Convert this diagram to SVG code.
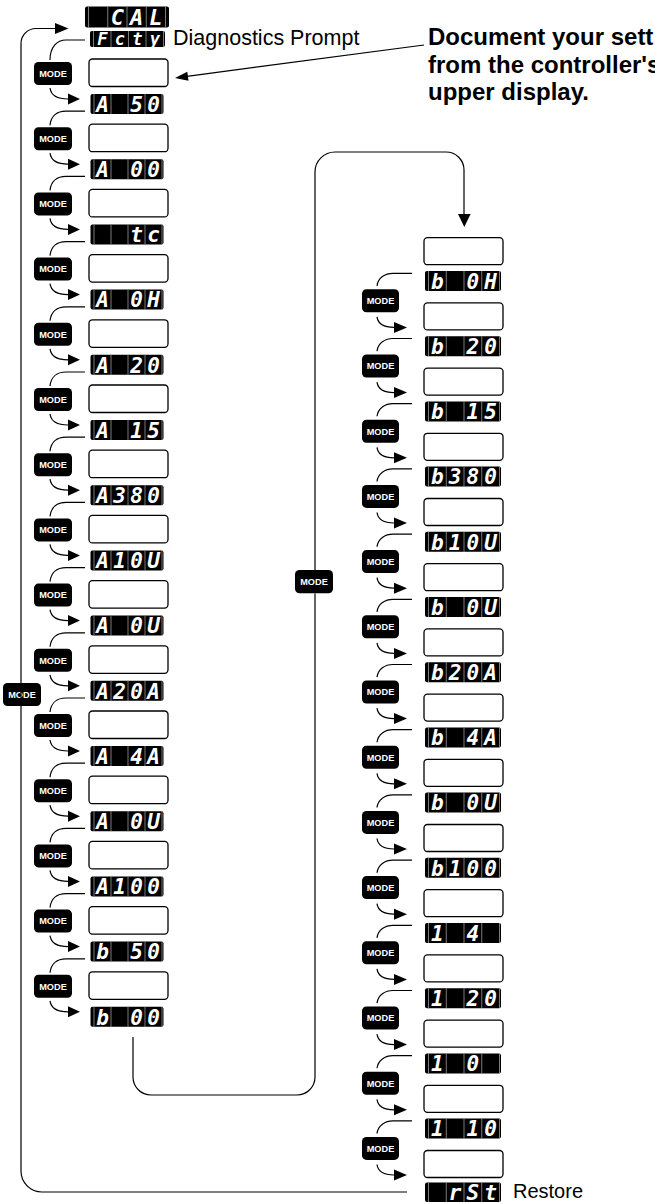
<svg xmlns="http://www.w3.org/2000/svg" width="655" height="1203" viewBox="0 0 655 1203">
<style>
.box{fill:#fff;stroke:#000;stroke-width:1.3}
.sep{fill:none;stroke:#9a9a9a;stroke-width:0.8}
.seg{font-family:"DejaVu Sans Mono",monospace;font-style:italic;font-weight:bold;font-size:21px;fill:#fff;text-anchor:middle}
.btn{fill:#000}
.bt{font-family:"Liberation Sans",Arial,sans-serif;font-weight:bold;font-size:9.2px;fill:#fff;text-anchor:middle}
.ln{fill:none;stroke:#000;stroke-width:1.2}
.ah{fill:#000}
.lbl{font-family:"Liberation Sans",Arial,sans-serif;font-size:21.5px;fill:#000}
.note{font-family:"Liberation Sans",Arial,sans-serif;font-size:24px;font-weight:bold;fill:#000}
</style>
<defs>
<g id="dL"><rect width="73" height="20" rx="2"/><path class="sep" d="M3.5,0V20M20.5,0V20M37.5,0V20M54.5,0V20M71.5,0V20"/></g>
<g id="dR"><rect width="76" height="20" rx="2"/><path class="sep" d="M3.5,0V20M21.25,0V20M39,0V20M56.75,0V20M74.5,0V20"/></g>
</defs>
<rect width="655" height="1203" fill="#fff"/>

<g id="labels">
<text class="lbl" x="173" y="45">Diagnostics Prompt</text>
<text class="note" x="428" y="45">Document your sett</text>
<text class="note" x="428" y="72.5">from the controller's</text>
<text class="note" x="428" y="100">upper display.</text>
<text class="lbl" x="513" y="1198" style="font-size:20px">Restore</text>
</g>

<g id="left-column">
<g id="d-cal"><rect x="85" y="6.5" width="84" height="21" rx="2"/><path class="sep" d="M88.5,6.5V27.5M107.75,6.5V27.5M127,6.5V27.5M146.25,6.5V27.5M165.5,6.5V27.5"/><text class="seg" style="font-size:22px" x="117.4 136.6 155.9" y="24.5">CAL</text></g>
<g id="d-fcty"><rect x="90" y="31" width="75" height="16" rx="2"/><path class="sep" d="M93.5,31V47M111,31V47M128.5,31V47M146,31V47M163.5,31V47"/><text class="seg" style="font-size:17px" x="102.25 119.75 137.25 154.75" y="44.8">Fcty</text></g>

<g id="box-L0"><rect class="box" x="89" y="59" width="79" height="27.5" rx="3.5"/></g>
<g id="mode-L0"><rect class="btn" x="34" y="62" width="38" height="23" rx="4.5"/><text class="bt" x="53" y="76.8">MODE</text></g>
<g id="d-A50"><use href="#dL" x="90.5" y="94"/><text class="seg" x="102.5 119.5 136.5 153.5" y="111.8">A 50</text></g>

<g id="box-L1"><rect class="box" x="89" y="124.2" width="79" height="27.5" rx="3.5"/></g>
<g id="mode-L1"><rect class="btn" x="34" y="127.2" width="38" height="23" rx="4.5"/><text class="bt" x="53" y="142">MODE</text></g>
<g id="d-A00"><use href="#dL" x="90.5" y="159.2"/><text class="seg" x="102.5 119.5 136.5 153.5" y="177">A 00</text></g>

<g id="box-L2"><rect class="box" x="89" y="189.4" width="79" height="27.5" rx="3.5"/></g>
<g id="mode-L2"><rect class="btn" x="34" y="192.4" width="38" height="23" rx="4.5"/><text class="bt" x="53" y="207.2">MODE</text></g>
<g id="d-tc"><use href="#dL" x="90.5" y="224.4"/><text class="seg" x="136.5 153.5" y="242.2">tc</text></g>

<g id="box-L3"><rect class="box" x="89" y="254.6" width="79" height="27.5" rx="3.5"/></g>
<g id="mode-L3"><rect class="btn" x="34" y="257.6" width="38" height="23" rx="4.5"/><text class="bt" x="53" y="272.4">MODE</text></g>
<g id="d-A0H"><use href="#dL" x="90.5" y="289.6"/><text class="seg" x="102.5 119.5 136.5 153.5" y="307.4">A 0H</text></g>

<g id="box-L4"><rect class="box" x="89" y="319.8" width="79" height="27.5" rx="3.5"/></g>
<g id="mode-L4"><rect class="btn" x="34" y="322.8" width="38" height="23" rx="4.5"/><text class="bt" x="53" y="337.6">MODE</text></g>
<g id="d-A20"><use href="#dL" x="90.5" y="354.8"/><text class="seg" x="102.5 119.5 136.5 153.5" y="372.6">A 20</text></g>

<g id="box-L5"><rect class="box" x="89" y="385" width="79" height="27.5" rx="3.5"/></g>
<g id="mode-L5"><rect class="btn" x="34" y="388" width="38" height="23" rx="4.5"/><text class="bt" x="53" y="402.8">MODE</text></g>
<g id="d-A15"><use href="#dL" x="90.5" y="420"/><text class="seg" x="102.5 119.5 136.5 153.5" y="437.8">A 15</text></g>

<g id="box-L6"><rect class="box" x="89" y="450.2" width="79" height="27.5" rx="3.5"/></g>
<g id="mode-L6"><rect class="btn" x="34" y="453.2" width="38" height="23" rx="4.5"/><text class="bt" x="53" y="468">MODE</text></g>
<g id="d-A380"><use href="#dL" x="90.5" y="485.2"/><text class="seg" x="102.5 119.5 136.5 153.5" y="503">A380</text></g>

<g id="box-L7"><rect class="box" x="89" y="515.4" width="79" height="27.5" rx="3.5"/></g>
<g id="mode-L7"><rect class="btn" x="34" y="518.4" width="38" height="23" rx="4.5"/><text class="bt" x="53" y="533.2">MODE</text></g>
<g id="d-A10U"><use href="#dL" x="90.5" y="550.4"/><text class="seg" x="102.5 119.5 136.5 153.5" y="568.2">A10U</text></g>

<g id="box-L8"><rect class="box" x="89" y="580.6" width="79" height="27.5" rx="3.5"/></g>
<g id="mode-L8"><rect class="btn" x="34" y="583.6" width="38" height="23" rx="4.5"/><text class="bt" x="53" y="598.4">MODE</text></g>
<g id="d-A0U-1"><use href="#dL" x="90.5" y="615.6"/><text class="seg" x="102.5 119.5 136.5 153.5" y="633.4">A 0U</text></g>

<g id="box-L9"><rect class="box" x="89" y="645.8" width="79" height="27.5" rx="3.5"/></g>
<g id="mode-L9"><rect class="btn" x="34" y="648.8" width="38" height="23" rx="4.5"/><text class="bt" x="53" y="663.6">MODE</text></g>
<g id="d-A20A"><use href="#dL" x="90.5" y="680.8"/><text class="seg" x="102.5 119.5 136.5 153.5" y="698.6">A20A</text></g>

<g id="box-L10"><rect class="box" x="89" y="711" width="79" height="27.5" rx="3.5"/></g>
<g id="mode-L10"><rect class="btn" x="34" y="714" width="38" height="23" rx="4.5"/><text class="bt" x="53" y="728.8">MODE</text></g>
<g id="d-A4A"><use href="#dL" x="90.5" y="746"/><text class="seg" x="102.5 119.5 136.5 153.5" y="763.8">A 4A</text></g>

<g id="box-L11"><rect class="box" x="89" y="776.2" width="79" height="27.5" rx="3.5"/></g>
<g id="mode-L11"><rect class="btn" x="34" y="779.2" width="38" height="23" rx="4.5"/><text class="bt" x="53" y="794">MODE</text></g>
<g id="d-A0U-2"><use href="#dL" x="90.5" y="811.2"/><text class="seg" x="102.5 119.5 136.5 153.5" y="829">A 0U</text></g>

<g id="box-L12"><rect class="box" x="89" y="841.4" width="79" height="27.5" rx="3.5"/></g>
<g id="mode-L12"><rect class="btn" x="34" y="844.4" width="38" height="23" rx="4.5"/><text class="bt" x="53" y="859.2">MODE</text></g>
<g id="d-A100"><use href="#dL" x="90.5" y="876.4"/><text class="seg" x="102.5 119.5 136.5 153.5" y="894.2">A100</text></g>

<g id="box-L13"><rect class="box" x="89" y="906.6" width="79" height="27.5" rx="3.5"/></g>
<g id="mode-L13"><rect class="btn" x="34" y="909.6" width="38" height="23" rx="4.5"/><text class="bt" x="53" y="924.4">MODE</text></g>
<g id="d-b50"><use href="#dL" x="90.5" y="941.6"/><text class="seg" x="102.5 119.5 136.5 153.5" y="959.4">b 50</text></g>

<g id="box-L14"><rect class="box" x="89" y="971.8" width="79" height="27.5" rx="3.5"/></g>
<g id="mode-L14"><rect class="btn" x="34" y="974.8" width="38" height="23" rx="4.5"/><text class="bt" x="53" y="989.6">MODE</text></g>
<g id="d-b00"><use href="#dL" x="90.5" y="1006.8"/><text class="seg" x="102.5 119.5 136.5 153.5" y="1024.6">b 00</text></g>
</g>

<g id="right-column">
<g id="box-R0"><rect class="box" x="424" y="237.7" width="79" height="27" rx="3.5"/></g>
<g id="d-b0H"><use href="#dR" x="425" y="271"/><text class="seg" x="437.4 455.1 472.9 490.6" y="288.8">b 0H</text></g>

<g id="mode-R1"><rect class="btn" x="362" y="289.3" width="37" height="23" rx="4.5"/><text class="bt" x="380.5" y="304.1">MODE</text></g>
<g id="box-R1"><rect class="box" x="424" y="302.9" width="79" height="27" rx="3.5"/></g>
<g id="d-b20"><use href="#dR" x="425" y="336.2"/><text class="seg" x="437.4 455.1 472.9 490.6" y="354">b 20</text></g>

<g id="mode-R2"><rect class="btn" x="362" y="354.5" width="37" height="23" rx="4.5"/><text class="bt" x="380.5" y="369.3">MODE</text></g>
<g id="box-R2"><rect class="box" x="424" y="368.1" width="79" height="27" rx="3.5"/></g>
<g id="d-b15"><use href="#dR" x="425" y="401.4"/><text class="seg" x="437.4 455.1 472.9 490.6" y="419.2">b 15</text></g>

<g id="mode-R3"><rect class="btn" x="362" y="419.7" width="37" height="23" rx="4.5"/><text class="bt" x="380.5" y="434.5">MODE</text></g>
<g id="box-R3"><rect class="box" x="424" y="433.3" width="79" height="27" rx="3.5"/></g>
<g id="d-b380"><use href="#dR" x="425" y="466.6"/><text class="seg" x="437.4 455.1 472.9 490.6" y="484.4">b380</text></g>

<g id="mode-R4"><rect class="btn" x="362" y="484.9" width="37" height="23" rx="4.5"/><text class="bt" x="380.5" y="499.7">MODE</text></g>
<g id="box-R4"><rect class="box" x="424" y="498.5" width="79" height="27" rx="3.5"/></g>
<g id="d-b10U"><use href="#dR" x="425" y="531.8"/><text class="seg" x="437.4 455.1 472.9 490.6" y="549.6">b10U</text></g>

<g id="mode-R5"><rect class="btn" x="362" y="550.1" width="37" height="23" rx="4.5"/><text class="bt" x="380.5" y="564.9">MODE</text></g>
<g id="box-R5"><rect class="box" x="424" y="563.7" width="79" height="27" rx="3.5"/></g>
<g id="d-b0U-1"><use href="#dR" x="425" y="597"/><text class="seg" x="437.4 455.1 472.9 490.6" y="614.8">b 0U</text></g>

<g id="mode-R6"><rect class="btn" x="362" y="615.3" width="37" height="23" rx="4.5"/><text class="bt" x="380.5" y="630.1">MODE</text></g>
<g id="box-R6"><rect class="box" x="424" y="628.9" width="79" height="27" rx="3.5"/></g>
<g id="d-b20A"><use href="#dR" x="425" y="662.2"/><text class="seg" x="437.4 455.1 472.9 490.6" y="680">b20A</text></g>

<g id="mode-R7"><rect class="btn" x="362" y="680.5" width="37" height="23" rx="4.5"/><text class="bt" x="380.5" y="695.3">MODE</text></g>
<g id="box-R7"><rect class="box" x="424" y="694.1" width="79" height="27" rx="3.5"/></g>
<g id="d-b4A"><use href="#dR" x="425" y="727.4"/><text class="seg" x="437.4 455.1 472.9 490.6" y="745.2">b 4A</text></g>

<g id="mode-R8"><rect class="btn" x="362" y="745.7" width="37" height="23" rx="4.5"/><text class="bt" x="380.5" y="760.5">MODE</text></g>
<g id="box-R8"><rect class="box" x="424" y="759.3" width="79" height="27" rx="3.5"/></g>
<g id="d-b0U-2"><use href="#dR" x="425" y="792.6"/><text class="seg" x="437.4 455.1 472.9 490.6" y="810.4">b 0U</text></g>

<g id="mode-R9"><rect class="btn" x="362" y="810.9" width="37" height="23" rx="4.5"/><text class="bt" x="380.5" y="825.7">MODE</text></g>
<g id="box-R9"><rect class="box" x="424" y="824.5" width="79" height="27" rx="3.5"/></g>
<g id="d-b100"><use href="#dR" x="425" y="857.8"/><text class="seg" x="437.4 455.1 472.9 490.6" y="875.6">b100</text></g>

<g id="mode-R10"><rect class="btn" x="362" y="876.1" width="37" height="23" rx="4.5"/><text class="bt" x="380.5" y="890.9">MODE</text></g>
<g id="box-R10"><rect class="box" x="424" y="889.7" width="79" height="27" rx="3.5"/></g>
<g id="d-14"><use href="#dR" x="425" y="923"/><text class="seg" x="437.4 455.1 472.9" y="940.8">1 4</text></g>

<g id="mode-R11"><rect class="btn" x="362" y="941.3" width="37" height="23" rx="4.5"/><text class="bt" x="380.5" y="956.1">MODE</text></g>
<g id="box-R11"><rect class="box" x="424" y="954.9" width="79" height="27" rx="3.5"/></g>
<g id="d-120"><use href="#dR" x="425" y="988.2"/><text class="seg" x="437.4 455.1 472.9 490.6" y="1006">1 20</text></g>

<g id="mode-R12"><rect class="btn" x="362" y="1006.5" width="37" height="23" rx="4.5"/><text class="bt" x="380.5" y="1021.3">MODE</text></g>
<g id="box-R12"><rect class="box" x="424" y="1020.1" width="79" height="27" rx="3.5"/></g>
<g id="d-10"><use href="#dR" x="425" y="1053.4"/><text class="seg" x="437.4 455.1 472.9" y="1071.2">1 0</text></g>

<g id="mode-R13"><rect class="btn" x="362" y="1071.7" width="37" height="23" rx="4.5"/><text class="bt" x="380.5" y="1086.5">MODE</text></g>
<g id="box-R13"><rect class="box" x="424" y="1085.3" width="79" height="27" rx="3.5"/></g>
<g id="d-110"><use href="#dR" x="425" y="1118.6"/><text class="seg" x="437.4 455.1 472.9 490.6" y="1136.4">1 10</text></g>

<g id="mode-R14"><rect class="btn" x="362" y="1136.9" width="37" height="23" rx="4.5"/><text class="bt" x="380.5" y="1151.7">MODE</text></g>
<g id="box-R14"><rect class="box" x="424" y="1150.5" width="79" height="27" rx="3.5"/></g>
<g id="d-rSt"><rect x="425" y="1182.5" width="76" height="19.5" rx="2"/><path class="sep" d="M428.5,1182.5V1202M446.25,1182.5V1202M464,1182.5V1202M481.75,1182.5V1202M499.5,1182.5V1202"/><text class="seg" x="455.1 472.9 490.6" y="1199.8">rSt</text></g>
</g>

<g id="mode-mid"><rect class="btn" x="295" y="570" width="38" height="23.3" rx="4.5"/><text class="bt" x="314" y="584.8">MODE</text></g>
<g id="mode-return"><rect class="btn" x="3" y="683" width="38" height="23" rx="4.5"/><text class="bt" x="22" y="697.8">MODE</text></g>

<g id="connectors">
<path class="ln" d="M407,1192 L42,1192 A21,21 0 0 1 21,1171 L21,43.5 A15,15 0 0 1 36,28.5 L56,28.5"/>
<polygon class="ah" points="55,23 68.5,28.5 55,34"/>
<path class="ln" d="M133,1037 L133,1077 A18,18 0 0 0 151,1095 L297,1095 A18,18 0 0 0 315,1077 L315,593.5 M315,570 L315,172 A20,20 0 0 1 335,152 L446,152 A18,18 0 0 1 464,170 L464,215"/>
<polygon class="ah" points="458,214 470.6,214 464.3,227"/>
<path class="ln" d="M424,45 L187,76.3"/>
<polygon class="ah" points="175,78 188.5,80.8 187.3,71.8"/>

<path class="ln" d="M85,40 L66,40 C57,40 50,47 50,60"/>
<path class="ln" d="M85,111.2 L66,111.2 C57,111.2 51,116.2 50,125.2 M85,176.4 L66,176.4 C57,176.4 51,181.4 50,190.4 M85,241.6 L66,241.6 C57,241.6 51,246.6 50,255.6 M85,306.8 L66,306.8 C57,306.8 51,311.8 50,320.8 M85,372 L66,372 C57,372 51,377 50,386 M85,437.2 L66,437.2 C57,437.2 51,442.2 50,451.2 M85,502.4 L66,502.4 C57,502.4 51,507.4 50,516.4 M85,567.6 L66,567.6 C57,567.6 51,572.6 50,581.6 M85,632.8 L66,632.8 C57,632.8 51,637.8 50,646.8 M85,698 L66,698 C57,698 51,703 50,712 M85,763.2 L66,763.2 C57,763.2 51,768.2 50,777.2 M85,828.4 L66,828.4 C57,828.4 51,833.4 50,842.4 M85,893.6 L66,893.6 C57,893.6 51,898.6 50,907.6 M85,958.8 L66,958.8 C57,958.8 51,963.8 50,972.8"/>
<path class="ln" d="M50,88 C51,95 57,99 68,99 M50,153.2 C51,160.2 57,164.2 68,164.2 M50,218.4 C51,225.4 57,229.4 68,229.4 M50,283.6 C51,290.6 57,294.6 68,294.6 M50,348.8 C51,355.8 57,359.8 68,359.8 M50,414 C51,421 57,425 68,425 M50,479.2 C51,486.2 57,490.2 68,490.2 M50,544.4 C51,551.4 57,555.4 68,555.4 M50,609.6 C51,616.6 57,620.6 68,620.6 M50,674.8 C51,681.8 57,685.8 68,685.8 M50,740 C51,747 57,751 68,751 M50,805.2 C51,812.2 57,816.2 68,816.2 M50,870.4 C51,877.4 57,881.4 68,881.4 M50,935.6 C51,942.6 57,946.6 68,946.6 M50,1000.8 C51,1007.8 57,1011.8 68,1011.8"/>
<path class="ah" d="M68,93.5L80,99L68,104.5Z M68,158.7L80,164.2L68,169.7Z M68,223.9L80,229.4L68,234.9Z M68,289.1L80,294.6L68,300.1Z M68,354.3L80,359.8L68,365.3Z M68,419.5L80,425L68,430.5Z M68,484.7L80,490.2L68,495.7Z M68,549.9L80,555.4L68,560.9Z M68,615.1L80,620.6L68,626.1Z M68,680.3L80,685.8L68,691.3Z M68,745.5L80,751L68,756.5Z M68,810.7L80,816.2L68,821.7Z M68,875.9L80,881.4L68,886.9Z M68,941.1L80,946.6L68,952.1Z M68,1006.3L80,1011.8L68,1017.3Z"/>

<path class="ln" d="M412,273.3 L393,273.3 C385,273.3 378,277.9 377,285.9 M412,338.5 L393,338.5 C385,338.5 378,343.1 377,351.1 M412,403.7 L393,403.7 C385,403.7 378,408.3 377,416.3 M412,468.9 L393,468.9 C385,468.9 378,473.5 377,481.5 M412,534.1 L393,534.1 C385,534.1 378,538.7 377,546.7 M412,599.3 L393,599.3 C385,599.3 378,603.9 377,611.9 M412,664.5 L393,664.5 C385,664.5 378,669.1 377,677.1 M412,729.7 L393,729.7 C385,729.7 378,734.3 377,742.3 M412,794.9 L393,794.9 C385,794.9 378,799.5 377,807.5 M412,860.1 L393,860.1 C385,860.1 378,864.7 377,872.7 M412,925.3 L393,925.3 C385,925.3 378,929.9 377,937.9 M412,990.5 L393,990.5 C385,990.5 378,995.1 377,1003.1 M412,1055.7 L393,1055.7 C385,1055.7 378,1060.3 377,1068.3 M412,1120.9 L393,1120.9 C385,1120.9 378,1125.5 377,1133.5"/>
<path class="ln" d="M377,316.9 C378,323.9 384,327.4 394,327.4 M377,382.1 C378,389.1 384,392.6 394,392.6 M377,447.3 C378,454.3 384,457.8 394,457.8 M377,512.5 C378,519.5 384,523 394,523 M377,577.7 C378,584.7 384,588.2 394,588.2 M377,642.9 C378,649.9 384,653.4 394,653.4 M377,708.1 C378,715.1 384,718.6 394,718.6 M377,773.3 C378,780.3 384,783.8 394,783.8 M377,838.5 C378,845.5 384,849 394,849 M377,903.7 C378,910.7 384,914.2 394,914.2 M377,968.9 C378,975.9 384,979.4 394,979.4 M377,1034.1 C378,1041.1 384,1044.6 394,1044.6 M377,1099.3 C378,1106.3 384,1109.8 394,1109.8 M377,1164.5 C378,1171.5 384,1175 394,1175"/>
<path class="ah" d="M394,321.9L407,327.4L394,332.9Z M394,387.1L407,392.6L394,398.1Z M394,452.3L407,457.8L394,463.3Z M394,517.5L407,523L394,528.5Z M394,582.7L407,588.2L394,593.7Z M394,647.9L407,653.4L394,658.9Z M394,713.1L407,718.6L394,724.1Z M394,778.3L407,783.8L394,789.3Z M394,843.5L407,849L394,854.5Z M394,908.7L407,914.2L394,919.7Z M394,973.9L407,979.4L394,984.9Z M394,1039.1L407,1044.6L394,1050.1Z M394,1104.3L407,1109.8L394,1115.3Z M394,1169.5L407,1175L394,1180.5Z"/>
</g>
</svg>
